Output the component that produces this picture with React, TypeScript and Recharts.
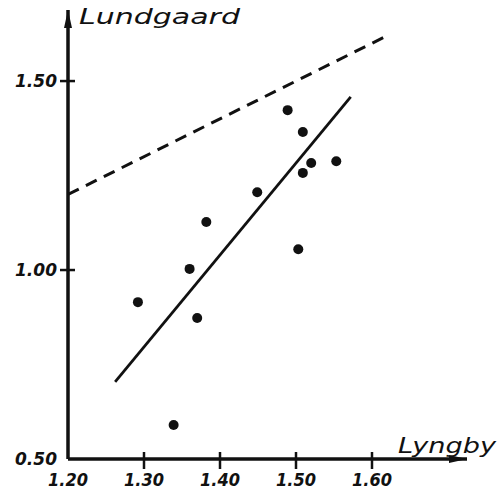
import { ComposedChart, Line, Scatter, XAxis, YAxis } from "recharts";

// Lyngby vs Lundgaard measurements
const LYNGBY = [1.292, 1.36, 1.37, 1.339, 1.382, 1.449, 1.489, 1.509, 1.52, 1.509, 1.553, 1.503];
const LUNDGAARD = [0.915, 1.003, 0.873, 0.59, 1.127, 1.206, 1.423, 1.365, 1.283, 1.257, 1.288, 1.055];

// regression line (solid) and equality line (dashed)
const FIT_X = [1.262, 1.572];
const FIT_Y = [0.704, 1.458];
const EQUAL_X = [1.2, 1.617];
const EQUAL_Y = [1.2, 1.617];

const X_TICKS = [1.2, 1.3, 1.4, 1.5, 1.6];
const Y_TICKS = [0.5, 1.0, 1.5];

const INK = "#111";
const FONT = "'DejaVu Sans', sans-serif";

const points = LYNGBY.map((x, i) => ({ x, y: LUNDGAARD[i] }));
const fit = FIT_X.map((x, i) => ({ x, y: FIT_Y[i] }));
const equal = EQUAL_X.map((x, i) => ({ x, y: EQUAL_Y[i] }));

function XTick({ x, y, payload }: any) {
  const v = payload.value;
  return (
    <g>
      {v > 1.2 && <line x1={x} x2={x} y1={y - 7} y2={y + 10} stroke={INK} strokeWidth={2.5} />}
      <text
        x={x}
        y={y + 27}
        textAnchor="middle"
        fontFamily={FONT}
        fontStyle="italic"
        fontWeight={600}
        fontSize={18}
        fill={INK}
        textLength={40}
        lengthAdjust="spacingAndGlyphs"
      >
        {v.toFixed(2)}
      </text>
    </g>
  );
}

function YTick({ x, y, payload }: any) {
  const v = payload.value;
  return (
    <g>
      {v > 0.5 && <line x1={x - 8} x2={x + 7} y1={y} y2={y} stroke={INK} strokeWidth={2.5} />}
      <text
        x={x - 11}
        y={y + 6}
        textAnchor="end"
        fontFamily={FONT}
        fontStyle="italic"
        fontWeight={600}
        fontSize={18}
        fill={INK}
        textLength={42}
        lengthAdjust="spacingAndGlyphs"
      >
        {v.toFixed(2)}
      </text>
    </g>
  );
}

export default function App() {
  return (
    <div style={{ position: "absolute", left: 0, top: 0, background: "#fff" }}>
      <ComposedChart width={498} height={493} margin={{ top: 10, right: 31, left: 0, bottom: 0 }}>
        <defs>
          <marker
            id="arrowHead"
            viewBox="0 0 10 10"
            refX="10"
            refY="5"
            markerUnits="userSpaceOnUse"
            markerWidth="18"
            markerHeight="8"
            preserveAspectRatio="none"
            orient="auto-start-reverse"
          >
            <path d="M0,0 L10,5 L0,10 z" fill={INK} />
          </marker>
        </defs>
        <XAxis
          dataKey="x"
          type="number"
          domain={[1.2, 1.725]}
          ticks={X_TICKS}
          height={34}
          tickSize={0}
          tickMargin={0}
          tickLine={false}
          axisLine={{ stroke: INK, strokeWidth: 3.5, markerEnd: "url(#arrowHead)" } as any}
          tick={<XTick />}
          allowDataOverflow
          label={{
            content: ({ viewBox }: any) => (
              <text
                x={viewBox.x + viewBox.width - 69}
                y={viewBox.y - 6}
                fontFamily={FONT}
                fontStyle="italic"
                fontWeight={500}
                fontSize={22}
                fill={INK}
                textLength={98}
                lengthAdjust="spacingAndGlyphs"
              >
                Lyngby
              </text>
            ),
          }}
        />
        <YAxis
          dataKey="y"
          type="number"
          domain={[0.5, 1.688]}
          ticks={Y_TICKS}
          width={68}
          tickSize={0}
          tickMargin={0}
          tickLine={false}
          axisLine={{ stroke: INK, strokeWidth: 3.5, markerStart: "url(#arrowHead)" } as any}
          tick={<YTick />}
          allowDataOverflow
          label={{
            content: ({ viewBox }: any) => (
              <text
                x={viewBox.x + viewBox.width + 11}
                y={viewBox.y + 14}
                fontFamily={FONT}
                fontStyle="italic"
                fontWeight={500}
                fontSize={22}
                fill={INK}
                textLength={161}
                lengthAdjust="spacingAndGlyphs"
              >
                Lundgaard
              </text>
            ),
          }}
        />
        <Line
          data={equal}
          dataKey="y"
          type="linear"
          stroke={INK}
          strokeWidth={3}
          strokeDasharray="12 8"
          dot={false}
          activeDot={false}
          isAnimationActive={false}
        />
        <Line
          data={fit}
          dataKey="y"
          type="linear"
          stroke={INK}
          strokeWidth={2.8}
          dot={false}
          activeDot={false}
          isAnimationActive={false}
        />
        <Scatter
          data={points}
          dataKey="y"
          fill={INK}
          isAnimationActive={false}
          shape={(p: any) => <circle cx={p.cx} cy={p.cy} r={5} fill={INK} />}
        />
      </ComposedChart>
    </div>
  );
}
